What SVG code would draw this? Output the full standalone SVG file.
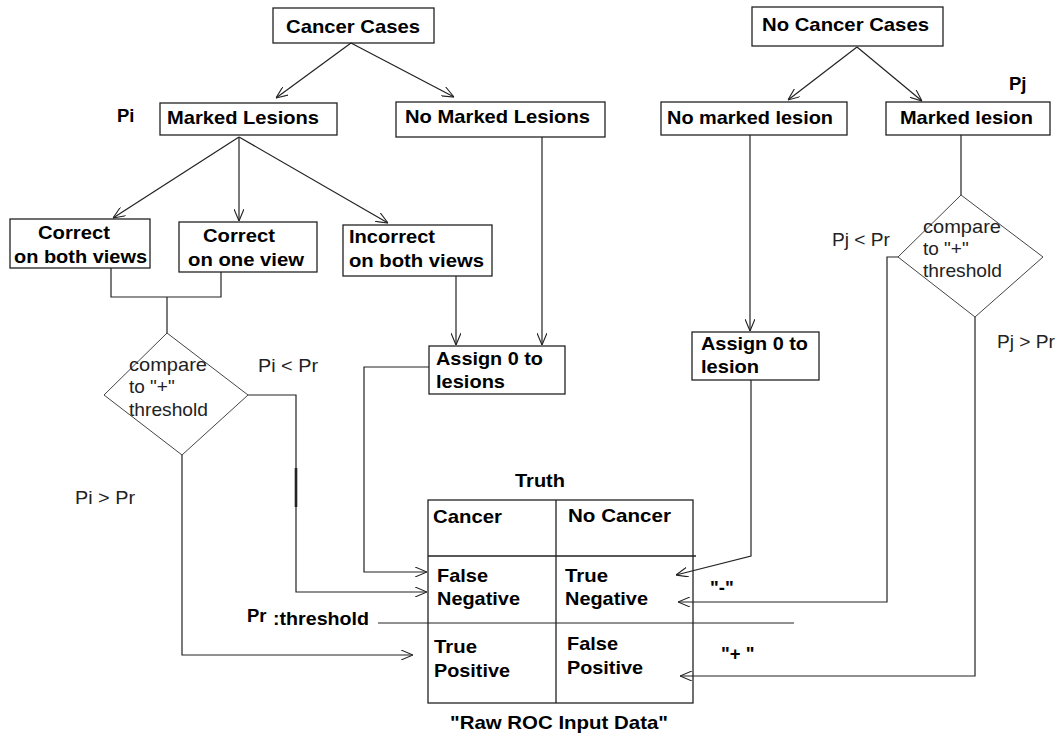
<svg xmlns="http://www.w3.org/2000/svg" width="1063" height="734" viewBox="0 0 1063 734">
<style>
.box{fill:#fff;stroke:#222;stroke-width:1.3}
.tbl{fill:none;stroke:#222;stroke-width:1.3}
.dia{fill:#fff;stroke:#444;stroke-width:1}
.b{font-family:"Liberation Sans",Arial,sans-serif;font-weight:bold;font-size:18.5px;fill:#000}
.n{font-family:"Liberation Sans",Arial,sans-serif;font-size:19px;fill:#222}
.c{fill:none;stroke:#222;stroke-width:1.2}
.a{marker-end:url(#arr)}
</style>
<defs>
<marker id="arr" viewBox="0 0 12 10" refX="12" refY="5" markerWidth="12" markerHeight="10" markerUnits="userSpaceOnUse" orient="auto">
<path d="M0,0 L12,5 L0,10" fill="none" stroke="#222" stroke-width="1.1"/>
</marker>
</defs>
<rect width="1063" height="734" fill="#fff"/>

<g id="cancer-cases">
<rect class="box" x="273" y="8" width="161" height="35"/>
<text class="b" x="286" y="33" textLength="134" lengthAdjust="spacingAndGlyphs">Cancer Cases</text>
</g>
<g id="no-cancer-cases">
<rect class="box" x="752" y="7" width="191" height="39"/>
<text class="b" x="762" y="31" textLength="167" lengthAdjust="spacingAndGlyphs">No Cancer Cases</text>
</g>
<g id="pi-label"><text class="b" x="117" y="122">Pi</text></g>
<g id="marked-lesions">
<rect class="box" x="160" y="103" width="177" height="32"/>
<text class="b" x="167" y="124" textLength="152" lengthAdjust="spacingAndGlyphs">Marked Lesions</text>
</g>
<g id="no-marked-lesions">
<rect class="box" x="396" y="102" width="209" height="35"/>
<text class="b" x="405" y="123" textLength="185" lengthAdjust="spacingAndGlyphs">No Marked Lesions</text>
</g>
<g id="no-marked-lesion">
<rect class="box" x="661" y="102" width="186" height="33"/>
<text class="b" x="667" y="124" textLength="166" lengthAdjust="spacingAndGlyphs">No marked lesion</text>
</g>
<g id="pj-label"><text class="b" x="1009" y="90">Pj</text></g>
<g id="marked-lesion">
<rect class="box" x="886" y="102" width="164" height="33"/>
<text class="b" x="900" y="124" textLength="133" lengthAdjust="spacingAndGlyphs">Marked lesion</text>
</g>
<g id="correct-both">
<rect class="box" x="10" y="219" width="140" height="49"/>
<text class="b" x="38" y="239" textLength="72" lengthAdjust="spacingAndGlyphs">Correct</text>
<text class="b" x="14" y="263" textLength="133" lengthAdjust="spacingAndGlyphs">on both views</text>
</g>
<g id="correct-one">
<rect class="box" x="179" y="222" width="138" height="50"/>
<text class="b" x="203" y="242" textLength="72" lengthAdjust="spacingAndGlyphs">Correct</text>
<text class="b" x="188" y="266" textLength="116" lengthAdjust="spacingAndGlyphs">on one view</text>
</g>
<g id="incorrect-both">
<rect class="box" x="343" y="225" width="149" height="51"/>
<text class="b" x="349" y="243" textLength="86" lengthAdjust="spacingAndGlyphs">Incorrect</text>
<text class="b" x="349" y="267" textLength="135" lengthAdjust="spacingAndGlyphs">on both views</text>
</g>
<g id="compare-left">
<polygon class="dia" points="167,333 248,395 182,455 104,395"/>
<text class="n" x="129" y="371" textLength="78" lengthAdjust="spacingAndGlyphs">compare</text>
<text class="n" x="129" y="393">to "+"</text>
<text class="n" x="129" y="416" textLength="79" lengthAdjust="spacingAndGlyphs">threshold</text>
</g>
<g id="compare-right">
<polygon class="dia" points="961,195 1043,257 975,317 898,257"/>
<text class="n" x="923" y="233" textLength="78" lengthAdjust="spacingAndGlyphs">compare</text>
<text class="n" x="923" y="255">to "+"</text>
<text class="n" x="923" y="277" textLength="79" lengthAdjust="spacingAndGlyphs">threshold</text>
</g>
<g id="branch-labels">
<text class="n" x="258" y="372" textLength="60" lengthAdjust="spacingAndGlyphs">Pi &lt; Pr</text>
<text class="n" x="75" y="504" textLength="60" lengthAdjust="spacingAndGlyphs">Pi &gt; Pr</text>
<text class="n" x="832" y="246" textLength="58" lengthAdjust="spacingAndGlyphs">Pj &lt; Pr</text>
<text class="n" x="997" y="348" textLength="58" lengthAdjust="spacingAndGlyphs">Pj &gt; Pr</text>
</g>
<g id="assign-lesions">
<rect class="box" x="429" y="346" width="136" height="48"/>
<text class="b" x="436" y="365" textLength="107" lengthAdjust="spacingAndGlyphs">Assign 0 to</text>
<text class="b" x="436" y="388" textLength="69" lengthAdjust="spacingAndGlyphs">lesions</text>
</g>
<g id="assign-lesion">
<rect class="box" x="692" y="332" width="127" height="48"/>
<text class="b" x="701" y="350" textLength="107" lengthAdjust="spacingAndGlyphs">Assign 0 to</text>
<text class="b" x="701" y="373" textLength="58" lengthAdjust="spacingAndGlyphs">lesion</text>
</g>
<g id="truth-table">
<text class="b" x="515" y="487" textLength="50" lengthAdjust="spacingAndGlyphs">Truth</text>
<rect class="tbl" x="428" y="500" width="265" height="203"/>
<path class="tbl" d="M556,500 L556,703 M428,556 L696,556"/>
<text class="b" x="433" y="523" textLength="69" lengthAdjust="spacingAndGlyphs">Cancer</text>
<text class="b" x="568" y="522" textLength="103" lengthAdjust="spacingAndGlyphs">No Cancer</text>
<text class="b" x="437" y="582" textLength="51" lengthAdjust="spacingAndGlyphs">False</text>
<text class="b" x="437" y="605" textLength="83" lengthAdjust="spacingAndGlyphs">Negative</text>
<text class="b" x="565" y="582" textLength="43" lengthAdjust="spacingAndGlyphs">True</text>
<text class="b" x="565" y="605" textLength="83" lengthAdjust="spacingAndGlyphs">Negative</text>
<text class="b" x="434" y="653" textLength="43" lengthAdjust="spacingAndGlyphs">True</text>
<text class="b" x="434" y="677" textLength="76" lengthAdjust="spacingAndGlyphs">Positive</text>
<text class="b" x="567" y="650" textLength="51" lengthAdjust="spacingAndGlyphs">False</text>
<text class="b" x="567" y="674" textLength="76" lengthAdjust="spacingAndGlyphs">Positive</text>
<text class="b" x="450" y="729" textLength="218" lengthAdjust="spacingAndGlyphs">"Raw ROC Input Data"</text>
</g>
<g id="threshold-label">
<text class="b" x="247" y="622">Pr</text>
<text class="b" x="273" y="625" textLength="96" lengthAdjust="spacingAndGlyphs">:threshold</text>
</g>
<g id="sign-labels">
<text class="b" x="710" y="594">"-"</text>
<text class="b" x="721" y="660">"+ "</text>
</g>

<g id="connectors">
<path class="c a" d="M351,43 L276,98"/>
<path class="c a" d="M351,43 L454,97"/>
<path class="c a" d="M239,137 L113,218"/>
<path class="c a" d="M239,137 L239,221"/>
<path class="c a" d="M239,137 L388,223"/>
<path class="c a" d="M857,47 L788,100"/>
<path class="c a" d="M857,47 L922,101"/>
<path class="c" d="M111,268 L111,297 L221,297 L221,272"/>
<path class="c" d="M167,297 L167,333"/>
<path class="c a" d="M248,395 L296,395 L296,592 L427,592"/>
<path class="c" d="M296,468 L296,507" style="stroke-width:2.6"/>
<path class="c a" d="M182,455 L182,655 L413,655"/>
<path class="c a" d="M456,276 L456,345"/>
<path class="c a" d="M542,137 L542,345"/>
<path class="c a" d="M429,367 L364,367 L364,572 L427,572"/>
<path class="c a" d="M750,135 L750,331"/>
<path class="c a" d="M751,380 L751,556 L676,575"/>
<path class="c" d="M961,135 L961,195"/>
<path class="c a" d="M898,257 L887,257 L887,602 L678,602"/>
<path class="c a" d="M975,317 L975,676 L680,676"/>
<path class="c" d="M378,623 L794,623"/>
</g>
</svg>
